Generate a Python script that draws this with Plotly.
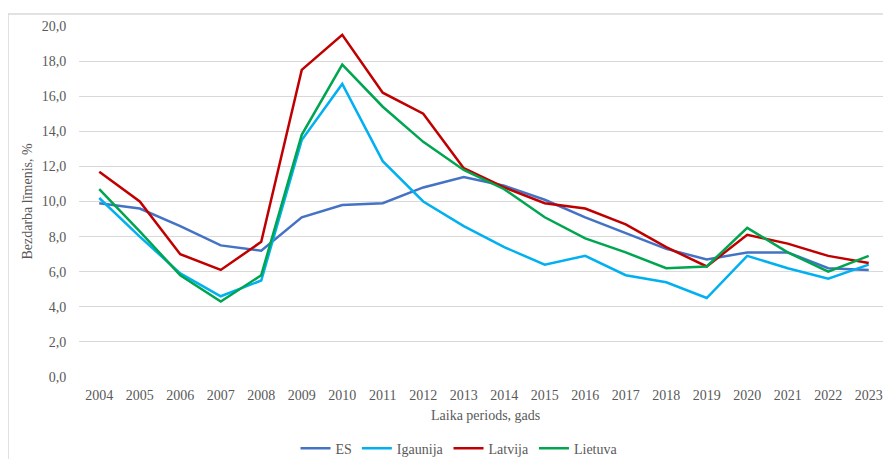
import plotly.graph_objects as go

years = [str(y) for y in range(2004, 2024)]
es = [9.9, 9.6, 8.6, 7.5, 7.2, 9.1, 9.8, 9.9, 10.8, 11.4, 10.9, 10.1, 9.1, 8.2, 7.3, 6.7, 7.1, 7.1, 6.2, 6.1]
igaunija = [10.2, 8.0, 5.9, 4.6, 5.5, 13.5, 16.7, 12.3, 10.0, 8.6, 7.4, 6.4, 6.9, 5.8, 5.4, 4.5, 6.9, 6.2, 5.6, 6.4]
latvija = [11.7, 10.0, 7.0, 6.1, 7.7, 17.5, 19.5, 16.2, 15.0, 11.9, 10.8, 9.9, 9.6, 8.7, 7.4, 6.3, 8.1, 7.6, 6.9, 6.5]
lietuva = [10.7, 8.3, 5.8, 4.3, 5.8, 13.8, 17.8, 15.4, 13.4, 11.8, 10.7, 9.1, 7.9, 7.1, 6.2, 6.3, 8.5, 7.1, 6.0, 6.9]

series = [("ES", es, "#4472C4"), ("Igaunija", igaunija, "#00B0F0"),
          ("Latvija", latvija, "#C00000"), ("Lietuva", lietuva, "#00A550")]
y_ticks = [0, 2, 4, 6, 8, 10, 12, 14, 16, 18, 20]
y_tick_labels = ["0,0", "2,0", "4,0", "6,0", "8,0", "10,0", "12,0", "14,0", "16,0", "18,0", "20,0"]

FONT = "Liberation Serif, Times New Roman, serif"
GRAY = "#595959"
FS = 14

fig = go.Figure()
for name, vals, col in series:
    fig.add_trace(go.Scatter(x=years, y=vals, name=name, mode="lines",
                             line=dict(color=col, width=2.5)))

fig.update_layout(
    width=883, height=451,
    margin=dict(l=71, r=0, t=18, b=82, autoexpand=False),
    paper_bgcolor="white", plot_bgcolor="white",
    font=dict(family=FONT, size=FS, color=GRAY),
    showlegend=True,
    legend=dict(orientation="h", x=0.468, xanchor="center", y=-0.204, yanchor="middle",
                font=dict(family=FONT, size=FS, color=GRAY), itemwidth=30,
                tracegroupgap=0),
    xaxis=dict(type="category", range=[-0.5, 19.55], showgrid=False, zeroline=False,
               showline=False, ticks="outside", ticklen=5, tickcolor="rgba(0,0,0,0)",
               tickfont=dict(family=FONT, size=FS, color=GRAY)),
    yaxis=dict(range=[0, 20], tickvals=y_ticks, ticktext=y_tick_labels,
               showgrid=True, gridcolor="#D9D9D9", gridwidth=1, zeroline=False,
               showline=False, ticks="outside", ticklen=9, tickcolor="rgba(0,0,0,0)",
               tickfont=dict(family=FONT, size=FS, color=GRAY)),
    annotations=[
        dict(text="Bezdarba līmenis, %", xref="paper", yref="paper", x=-0.064, y=0.5,
             textangle=-90, showarrow=False, xanchor="center", yanchor="middle",
             font=dict(family=FONT, size=FS, color=GRAY)),
        dict(text="Laika periods, gads", xref="paper", yref="paper", x=0.5, y=-0.1095,
             showarrow=False, xanchor="center", yanchor="middle",
             font=dict(family=FONT, size=FS, color=GRAY)),
    ],
    shapes=[dict(type="rect", xref="paper", yref="paper", x0=-0.0874, x1=1.02,
                 y0=-0.3, y1=1.0342, line=dict(color="#D9D9D9", width=1.5),
                 fillcolor="rgba(0,0,0,0)", layer="below")],
)

fig.write_html("out.html")
